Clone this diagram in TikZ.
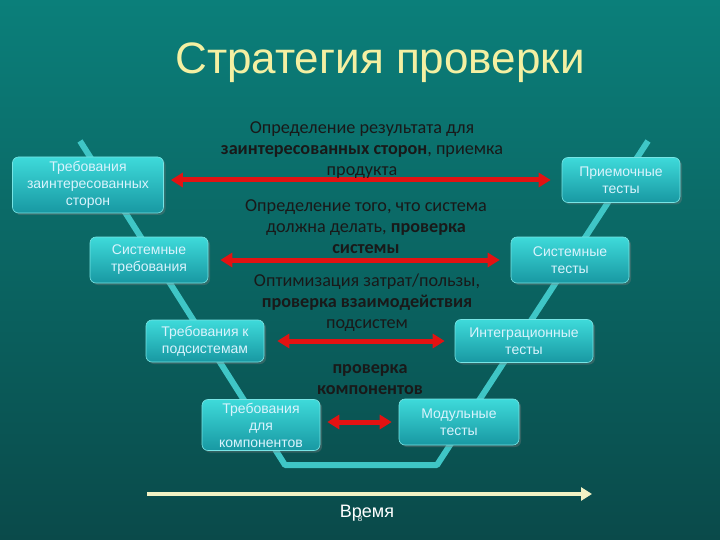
\documentclass[tikz,border=0pt]{standalone}
\usepackage{fontspec}
\setmainfont{Liberation Sans}
\newfontfamily\bodyfont{Carlito}
\usepackage{xcolor}
\usetikzlibrary{positioning,arrows.meta,shadows}
\definecolor{bgtop}{HTML}{0B7F7A}
\definecolor{bgbot}{HTML}{0A4A4A}
\definecolor{vcyan}{HTML}{3FC6C6}
\definecolor{boxtop}{HTML}{3EDADA}
\definecolor{boxbot}{HTML}{1898A2}
\definecolor{arrowred}{HTML}{E31212}
\definecolor{titleyellow}{HTML}{F4F0A2}
\definecolor{timeyellow}{HTML}{F2F2C4}

\begin{document}
\begin{tikzpicture}[x=1pt, y=-1pt,
        box/.style={rectangle, rounded corners=6pt, top color=boxtop, bottom color=boxbot, draw=boxtop!70!white, line width=0.6pt, minimum width=118pt, minimum height=45pt, align=center, inner sep=2pt, text=white!85!cyan, font=\fontsize{14}{17}\selectfont, drop shadow={opacity=0.35, shadow xshift=2pt, shadow yshift=-2pt}},
        goal/.style={align=center, text=black!90, font=\bodyfont\fontsize{18.2}{21}\selectfont},
        redarrow/.style={<->, >={Stealth[length=12pt, width=14pt, inset=0pt]}, arrowred, line width=5pt},
        timearrow/.style={->, >={Stealth[length=11pt, width=13pt, inset=0pt]}, timeyellow, line width=4pt},
        vline/.style={vcyan, line width=6pt, line join=round}
    ]

    % Background (fixes the 720x540 frame)
    \fill[top color=bgtop, bottom color=bgbot] (0,0) rectangle (720,540);

    % Title
    \node[text=titleyellow, font=\fontsize{44}{48}\selectfont] (title) at (380,63) {Стратегия проверки};

    % V shape behind the boxes
    \draw[vline] (80,141) -- (285,465) -- (437,465) -- (648,141);

    % Requirements (left branch)
    \node[box, minimum width=151pt, minimum height=56pt] (req1) at (88,185) {Требования\\заинтересованных\\сторон};
    \node[box, minimum height=46pt] (req2) at (149,260) {Системные\\требования};
    \node[box, minimum height=42pt] (req3) at (205,341) {Требования к\\подсистемам};
    \node[box, minimum height=51pt] (req4) at (261,425) {Требования\\для\\компонентов};

    % Tests (right branch)
    \node[box] (test1) at (621,180) {Приемочные\\тесты};
    \node[box, minimum height=46pt] (test2) at (570,260) {Системные\\тесты};
    \node[box, minimum width=138pt, minimum height=43pt] (test3) at (524,341) {Интеграционные\\тесты};
    \node[box, minimum width=120pt, minimum height=46pt] (test4) at (459,422) {Модульные\\тесты};

    % Red arrows between the levels
    \draw[redarrow, shorten <=7pt, shorten >=11pt] (req1.east |- test1.west) -- (test1.west);
    \draw[redarrow, shorten <=12pt, shorten >=11pt] (req2.east) -- (test2.west);
    \draw[redarrow, shorten <=13pt, shorten >=10pt] (req3.east) -- (test3.west);
    \draw[redarrow, shorten <=7pt, shorten >=7pt] (req4.east |- test4.west) -- (test4.west);

    % Level descriptions
    \node[goal] (goal1) at (362,150) {Определение результата для\\\textbf{заинтересованных сторон}, приемка\\продукта};
    \node[goal] (goal2) at (366,227) {Определение того, что система\\должна делать, \textbf{проверка}\\\textbf{системы}};
    \node[goal] (goal3) at (367,303) {Оптимизация затрат/пользы,\\\textbf{проверка взаимодействия}\\подсистем};
    \node[goal] (goal4) at (370,380) {\textbf{проверка}\\\textbf{компонентов}};

    % Time axis
    \coordinate (t0) at (147,494);
    \coordinate (t1) at (592,494);
    \draw[timearrow] (t0) -- (t1);
    \node[text=white, font=\fontsize{18}{20}\selectfont] (time) at (367,513) {Время};
    \node[text=white, font=\fontsize{8}{9}\selectfont] (pagenum) at (360,519) {8};

    \end{tikzpicture}
\end{document}
